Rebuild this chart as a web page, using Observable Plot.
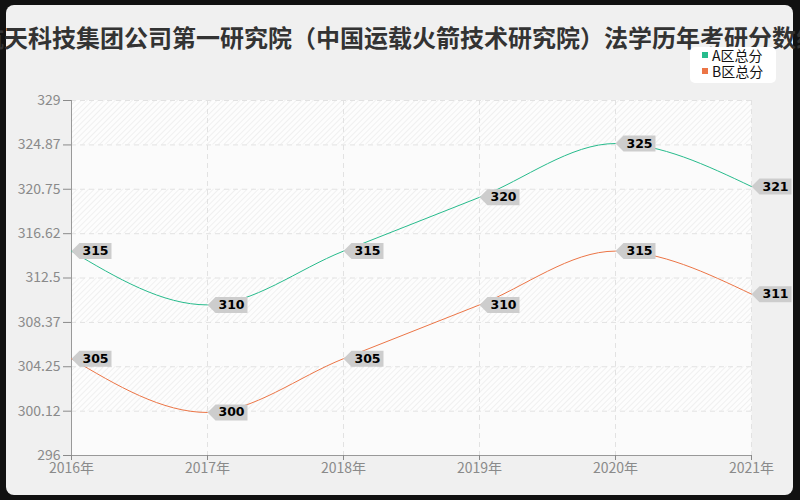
<!DOCTYPE html>
<html><head><meta charset="utf-8">
<script src="https://cdn.jsdelivr.net/npm/d3@7"></script>
<script src="https://cdn.jsdelivr.net/npm/@observablehq/plot@0.6"></script>
<style>
body{margin:0;background:#111;width:800px;height:500px;overflow:hidden;position:relative;font-family:"Noto Sans CJK SC","Noto Sans",sans-serif}
#panel{position:absolute;left:6px;top:5px;width:787px;height:490px;background:#f0f0f0;border-radius:8px}
#title{position:absolute;left:0;width:800px;top:19px;text-align:center;white-space:nowrap;font-size:24px;font-weight:bold;color:#333;display:flex;justify-content:center}
#legend{position:absolute;left:690px;top:47px;width:86px;height:36px;background:#fff;border-radius:5px;font-size:14px;color:#111}
.item{position:absolute;left:22px;height:16px;line-height:16px}
.sw{position:absolute;left:-10px;top:5px;width:6px;height:6px}
#chart{position:absolute;left:0;top:0}
</style></head>
<body>
<div id="panel"></div>
<div id="chart"></div>
<div id="title"><span style="flex:none">航天科技集团公司第一研究院（中国运载火箭技术研究院）法学历年考研分数线</span></div>
<div id="legend"></div>
<script>
const years = ["2016","2017","2018","2019","2020","2021"];
const seriesNames = ["A区总分","B区总分"];
const seriesA = [315,310,315,320,325,321];
const seriesB = [305,300,305,310,315,311];
const yTicks = [296,300.12,304.25,308.37,312.5,316.62,320.75,324.87,329];
const colors = ["#27bb8c","#ec7546"];

const data = [];
years.forEach((y,i)=>{data.push({year:y,value:seriesA[i],series:seriesNames[0]});});
years.forEach((y,i)=>{data.push({year:y,value:seriesB[i],series:seriesNames[1]});});

const hatchBands = [];
for (let i = yTicks.length-1; i > 0; i -= 2) hatchBands.push({y1:yTicks[i-1], y2:yTicks[i]});

// callout tag shape (left-pointing), drawn relative to the data point
const tagSymbol = {draw(ctx){ ctx.moveTo(0,0); ctx.lineTo(8,-8); ctx.lineTo(40,-8); ctx.lineTo(40,8); ctx.lineTo(8,8); ctx.closePath(); }};

const svg = Plot.plot({
  width:800, height:500,
  marginLeft:71, marginRight:49, marginTop:100, marginBottom:45,
  style:{background:"transparent", color:"#111", fontFamily:"'Noto Sans CJK SC','Noto Sans',sans-serif"},
  x:{type:"point", domain:years, padding:0, label:null},
  y:{domain:[296,329], label:null},
  color:{domain:seriesNames, range:colors},
  marks:[
    Plot.frame({fill:"#fbfbfb", stroke:"none"}),
    Plot.rect(hatchBands, {y1:"y1", y2:"y2", fill:"url(#hatch)"}),
    Plot.ruleY(yTicks, {stroke:"#e2e2e2", strokeDasharray:"5,4"}),
    Plot.ruleX(years, {stroke:"#e2e2e2", strokeDasharray:"5,4"}),
    Plot.ruleX([years[0]], {stroke:"#999"}),
    Plot.ruleY([yTicks[0]], {stroke:"#999"}),
    Plot.axisY({ticks:yTicks, tickFormat:d=>String(d), tickSize:8, tickPadding:3, color:"#8a8a8a", fontSize:14, label:null}),
    Plot.axisX({tickFormat:d=>d+"年", tickSize:5, tickPadding:3, color:"#8a8a8a", fontSize:14, label:null}),
    Plot.line(data, {x:"year", y:"value", stroke:"series", z:"series", curve:"monotone-x", strokeWidth:1}),
    Plot.dot(data, {x:"year", y:"value", symbol:tagSymbol, r:5, fill:"#cdcdcd", stroke:"none",
      style:"filter:drop-shadow(1px 1px 0px rgba(0,0,0,0.18))"}),
    Plot.text(data, {x:"year", y:"value", text:d=>String(d.value), dx:24, fill:"#000",
      fontSize:12.5, fontWeight:"bold", fontFamily:"'DejaVu Sans',sans-serif"})
  ]
});
const ns = "http://www.w3.org/2000/svg";
const defs = document.createElementNS(ns,"defs");
defs.innerHTML = '<pattern id="hatch" patternUnits="userSpaceOnUse" width="4" height="4" patternTransform="rotate(45)"><rect width="4" height="4" fill="#fdfdfd"/><line x1="0" y1="0" x2="0" y2="4" stroke="#ececec" stroke-width="1.5"/></pattern>';
svg.insertBefore(defs, svg.firstChild);
document.getElementById("chart").appendChild(svg);

const lg = document.getElementById("legend");
seriesNames.forEach((n,i)=>{
  const d = document.createElement("div");
  d.className="item"; d.style.top=(0+i*16)+"px";
  d.innerHTML = `<span class="sw" style="background:${colors[i]}"></span>${n}`;
  lg.appendChild(d);
});
</script>
</body></html>
